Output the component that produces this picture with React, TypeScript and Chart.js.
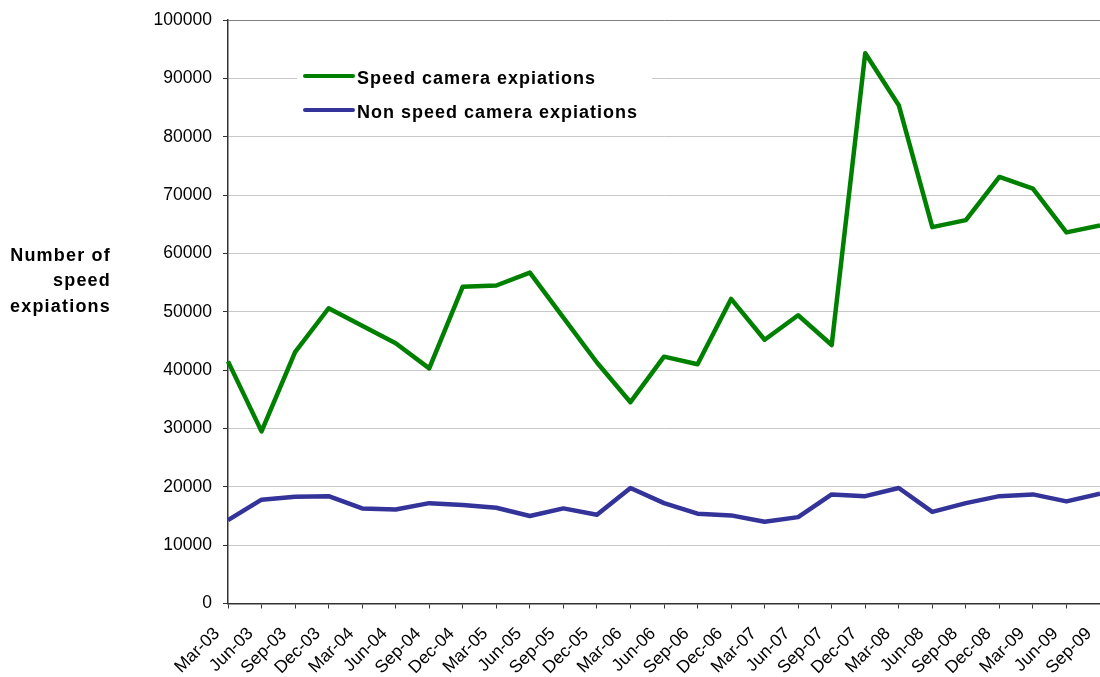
import React, { useEffect, useRef } from 'react';
import { Chart, registerables } from 'chart.js';

Chart.register(...registerables);

const categories = [
  'Mar-03', 'Jun-03', 'Sep-03', 'Dec-03',
  'Mar-04', 'Jun-04', 'Sep-04', 'Dec-04',
  'Mar-05', 'Jun-05', 'Sep-05', 'Dec-05',
  'Mar-06', 'Jun-06', 'Sep-06', 'Dec-06',
  'Mar-07', 'Jun-07', 'Sep-07', 'Dec-07',
  'Mar-08', 'Jun-08', 'Sep-08', 'Dec-08',
  'Mar-09', 'Jun-09', 'Sep-09',
];

const speedCamera = [
  41500, 29500, 43100, 50600,
  47600, 44600, 40300, 54300,
  54500, 56700, 49000, 41300,
  34500, 42300, 41000, 52200,
  45200, 49400, 44300, 94300,
  85400, 64500, 65700, 73100,
  71100, 63600, 64800,
];

const nonSpeedCamera = [
  14300, 17800, 18300, 18400,
  16300, 16100, 17200, 16900,
  16400, 15000, 16300, 15200,
  19800, 17200, 15400, 15100,
  14000, 14800, 18700, 18400,
  19800, 15700, 17200, 18400,
  18700, 17500, 18800,
];

const seriesNames = ['Speed camera expiations', 'Non speed camera expiations'];
const seriesColors = ['#008000', '#333399'];
const yTitleLines = ['Number of', 'speed', 'expiations'];
const yMin = 0;
const yMax = 100000;
const yStep = 10000;

const FONT = '"Liberation Sans", Arial, Helvetica, sans-serif';

const overlayPlugin = {
  id: 'overlay',
  afterDatasetsDraw(chart: any) {
    const { ctx, chartArea } = chart;
    ctx.save();
    const bx = chartArea.left + 69;
    const by = chartArea.top + 36;
    ctx.fillStyle = '#ffffff';
    ctx.fillRect(bx, by, 355, 74);
    ctx.font = `bold 18px ${FONT}`;
    (ctx as any).letterSpacing = '1px';
    ctx.textAlign = 'left';
    ctx.textBaseline = 'alphabetic';
    for (let i = 0; i < seriesNames.length; i++) {
      const cy = by + 20 + i * 34;
      ctx.strokeStyle = seriesColors[i];
      ctx.lineWidth = 4;
      ctx.lineCap = 'round';
      ctx.beginPath();
      ctx.moveTo(bx + 8, cy);
      ctx.lineTo(bx + 56, cy);
      ctx.stroke();
      ctx.fillStyle = '#000000';
      ctx.fillText(seriesNames[i], bx + 60, cy + 7.5);
    }
    ctx.restore();
  },
  afterDraw(chart: any) {
    const { ctx } = chart;
    ctx.save();
    ctx.font = `bold 18px ${FONT}`;
    (ctx as any).letterSpacing = '1.2px';
    ctx.fillStyle = '#000000';
    ctx.textAlign = 'right';
    ctx.textBaseline = 'middle';
    yTitleLines.forEach((line, i) => {
      ctx.fillText(line, 111, 256 + i * 25.5);
    });
    ctx.restore();
  },
};

export default function App() {
  const canvasRef = useRef<HTMLCanvasElement | null>(null);

  useEffect(() => {
    if (!canvasRef.current) return;
    const chart = new Chart(canvasRef.current, {
      type: 'line',
      data: {
        labels: categories,
        datasets: [
          {
            label: seriesNames[0],
            data: speedCamera,
            borderColor: seriesColors[0],
            backgroundColor: seriesColors[0],
            borderWidth: 4.5,
            pointRadius: 0,
            tension: 0,
            borderJoinStyle: 'round',
          },
          {
            label: seriesNames[1],
            data: nonSpeedCamera,
            borderColor: seriesColors[1],
            backgroundColor: seriesColors[1],
            borderWidth: 4.5,
            pointRadius: 0,
            tension: 0,
            borderJoinStyle: 'round',
          },
        ],
      },
      options: {
        animation: false,
        responsive: false,
        devicePixelRatio: 1,
        layout: { padding: { top: 20, right: 0, left: 0, bottom: 0 } },
        plugins: {
          legend: { display: false },
          tooltip: { enabled: false },
        },
        scales: {
          x: {
            offset: false,
            grid: {
              drawOnChartArea: false,
              drawTicks: true,
              tickLength: 5,
              tickColor: '#333333',
              tickWidth: 1,
            },
            border: { color: '#333333', width: 1.5 },
            ticks: {
              autoSkip: false,
              maxRotation: 45,
              minRotation: 45,
              padding: 15,
              labelOffset: -11,
              color: '#000000',
              font: { family: FONT, size: 17.5 },
            },
            afterFit(scale: any) {
              scale.height = 73.5;
              scale.paddingRight = 0;
              scale.paddingLeft = 0;
            },
          },
          y: {
            min: yMin,
            max: yMax,
            grid: {
              color: (c: any) => (c.tick && c.tick.value === yMax ? '#808080' : '#c8c8c8'),
              lineWidth: 1,
              drawTicks: true,
              tickLength: 5,
              tickColor: '#333333',
            },
            border: { color: '#333333', width: 1.5 },
            ticks: {
              stepSize: yStep,
              padding: 11,
              color: '#000000',
              font: { family: FONT, size: 17.5 },
              callback: (v: any) => String(v),
            },
            afterFit(scale: any) {
              scale.width = 228;
              scale.paddingTop = 0;
              scale.paddingBottom = 0;
            },
          },
        },
      },
      plugins: [overlayPlugin],
    } as any);
    return () => chart.destroy();
  }, []);

  return (
    <div style={{ position: 'fixed', left: 0, top: 0, width: 1100, height: 677, background: '#ffffff' }}>
      <canvas ref={canvasRef} width={1100} height={677} style={{ display: 'block' }} />
    </div>
  );
}
